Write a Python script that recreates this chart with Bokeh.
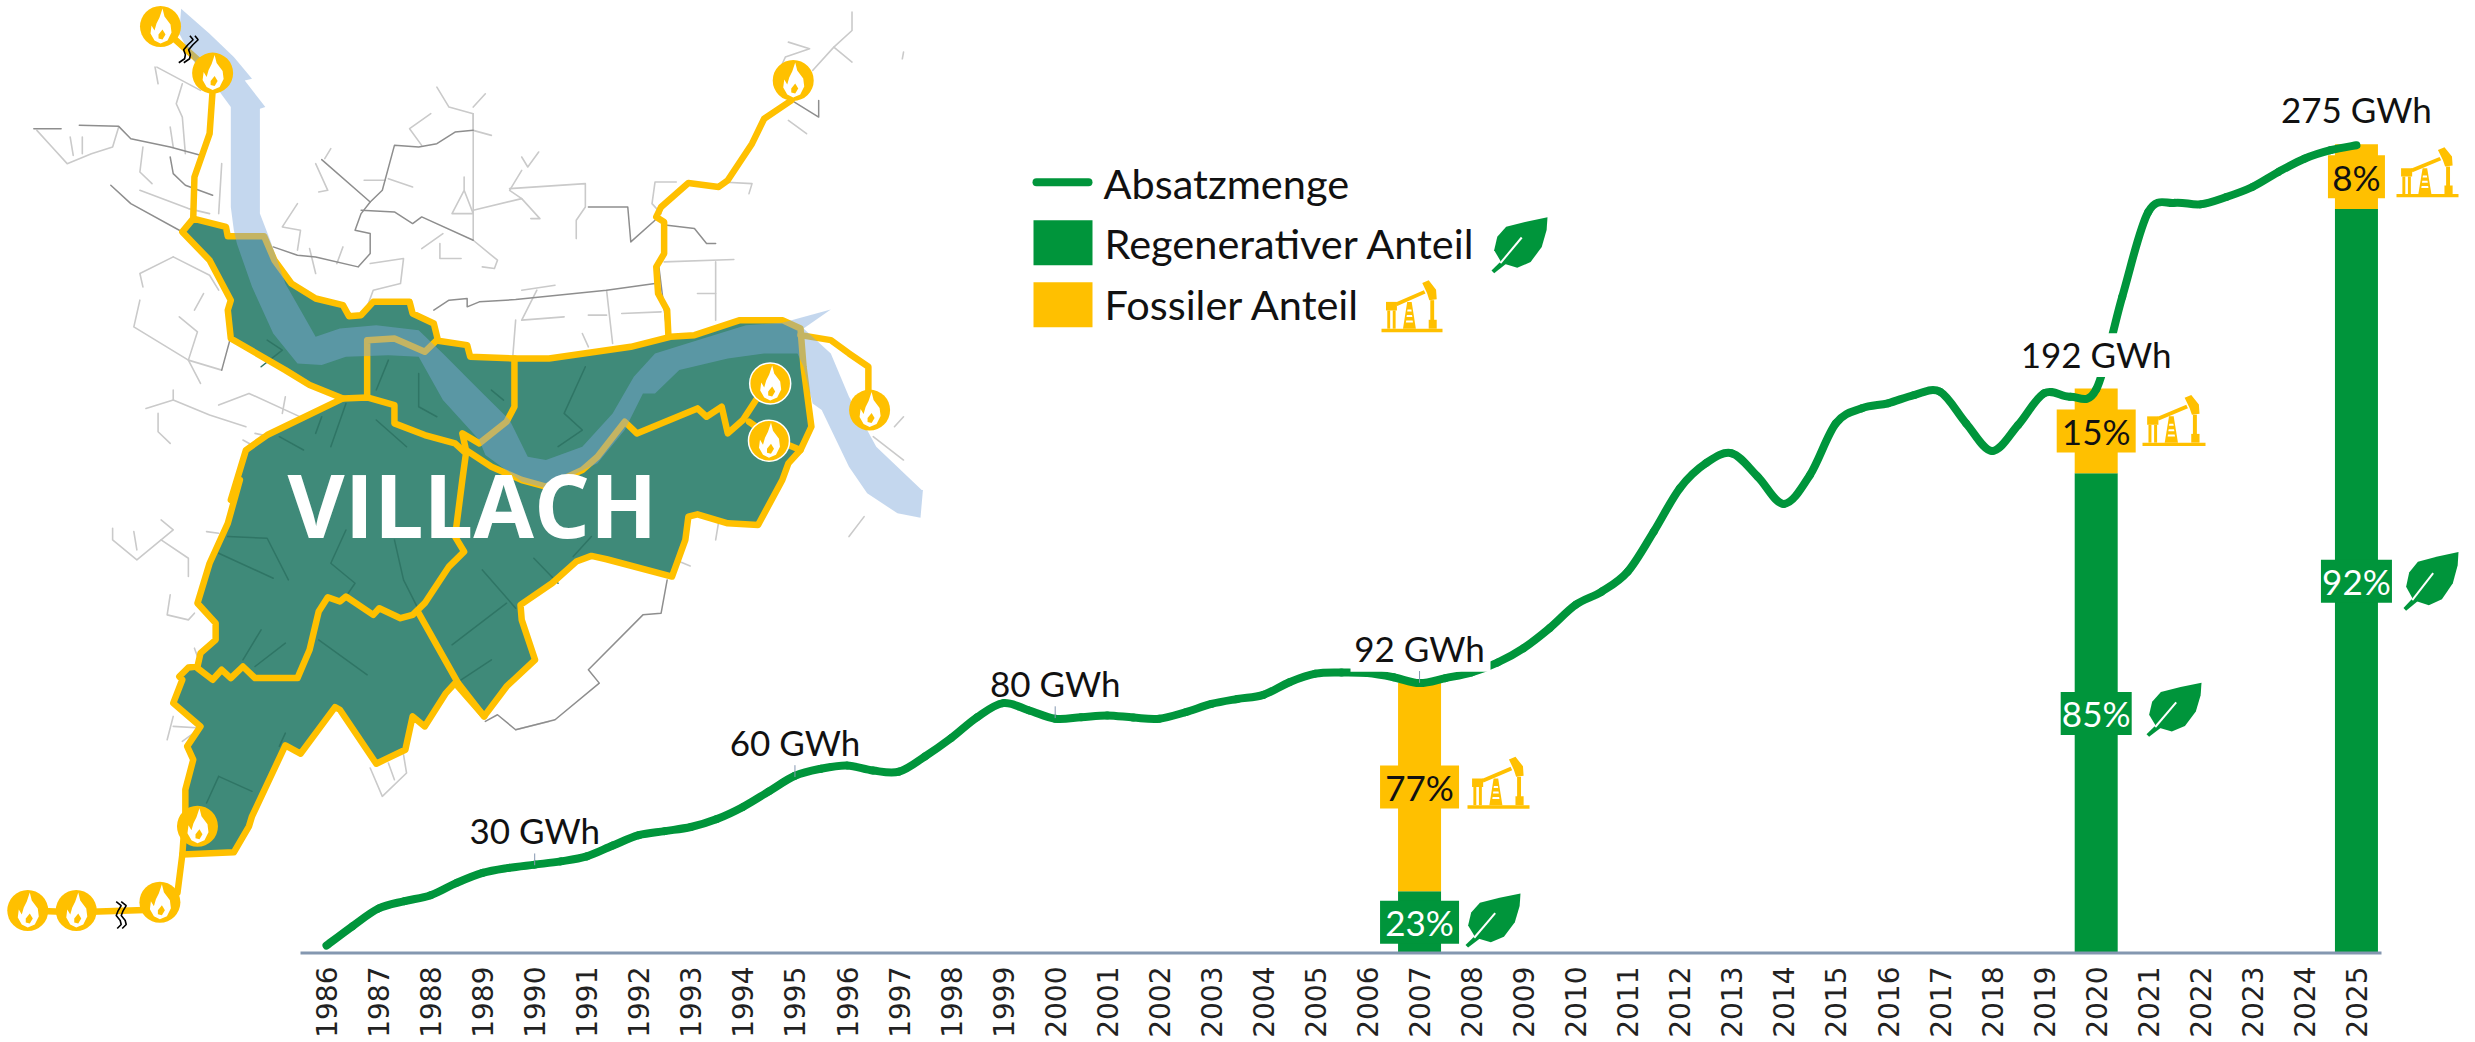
from bokeh.plotting import figure
from bokeh.embed import file_html
from bokeh.resources import INLINE
from bokeh.models import Range1d, FixedTicker
from bokeh.core.properties import value
import math

# ---------- chart data ----------
YEARS = list(range(1986, 2026))
CURVE_YEARS = [1986 + i * 0.5 for i in range(79)]
CURVE_GWH = [2.7, 9.3, 15.3, 17.8, 19.8, 24.0, 27.4, 29.1, 30.2, 31.3, 33.0, 36.7, 40.2, 41.6, 43.0, 45.7,
             49.8, 55.1, 60.4, 62.8, 63.9, 62.2, 61.8, 67.0, 73.2, 80.3, 85.1, 82.6, 79.8, 80.3, 80.9, 80.2,
             79.8, 82.0, 84.8, 86.5, 87.9, 92.2, 95.1, 95.5, 95.3, 93.9, 91.9, 93.6, 95.5, 98.9, 103.8, 110.6,
             118.5, 123.0, 129.8, 143.4, 158.1, 166.6, 170.0, 162.0, 152.8, 162.6, 180.2, 185.3, 187.0, 189.8,
             190.9, 180.2, 170.8, 179.6, 190.4, 189.2, 191.7, 223.2, 252.0, 255.1, 254.6, 257.1, 260.5, 265.6,
             270.1, 273.0, 274.7]
LABEL_YEARS = [1990, 1995, 2000, 2007, 2020, 2025]
LABEL_GWH = [30, 60, 80, 92, 192, 275]
TICK_YEARS = [1990, 1995, 2000, 2007]
SHARE_YEARS = [2007, 2020, 2025]
SHARE_TOTAL = [92, 192, 275]
RENEWABLE_PCT = [23, 85, 92]
FOSSIL_PCT = [77, 15, 8]
PCT_BOX_W = [79, 79, 57]
PCT_BOX_W_G = [79, 71, 71]
LEGEND_TEXT = ["Absatzmenge", "Regenerativer Anteil", "Fossiler Anteil"]

GREEN = "#00953B"
YELLOW = "#FFC000"
TEAL = "#3F8A79"
AXIS = "#8497B0"
FONT = value("Lato")

# ---------- map shapes (Z = picture px * (1.65, 3)) ----------
TEAL_AREA = [(318,655),(372,680),(375,708),(435,708),(452,780),(480,850),(520,895),(565,915),(575,948),(595,945),(615,905),(675,905),(680,940),(715,970),(722,1022),(770,1035),(775,1070),(848,1075),(905,1075),(1040,1040),(1105,1010),(1145,1005),(1220,960),(1290,960),(1320,985),(1325,1100),(1338,1280),(1320,1350),(1300,1390),
 (1290,1440),(1250,1575),(1200,1570),(1150,1543),(1135,1550),(1130,1620),(1108,1730),(1000,1678),(975,1668),(950,1685),(910,1750),(858,1815),(860,1860),(882,1980),(835,2060),(798,2150),(750,2050),(735,2080),(700,2180),(680,2150),(668,2250),(620,2292),(560,2130),(552,2122),(495,2262),(470,2237),(415,2450),(410,2480),(385,2558),(300,2565),(305,2440),(305,2370),(318,2280),(308,2240),(330,2180),(285,2110),(300,2040),(295,2030),(310,2003),(325,2000),(330,1960),(355,1920),(355,1870),(325,1810),(345,1690),(375,1570),(395,1440),
 (380,1500),(405,1350),(440,1305),(565,1195),(510,1155),(470,1110),(380,1015),(375,930),(380,900),(345,780),(300,695)]

YELLOW_LINES = [
 TEAL_AREA + TEAL_AREA[:1],
 [(565,1195),(605,1192),(650,1215),(650,1270),(700,1305),(750,1330),(768,1360),(762,1440),(750,1610),(765,1655),(740,1700),(700,1810),(680,1845),(660,1855),(625,1825),(615,1845),(570,1790),(560,1805),(540,1792),(525,1835),(510,1950),(490,2035),(420,2035),(400,2000),(380,2035),(365,2010),(350,2040),(325,2005)],
 [(690,1840),(755,2050),(798,2150)],
 [(605,1192),(605,1020),(650,1015),(700,1055),(720,1020)],
 [(848,1075),(848,1220),(835,1265),(790,1330),(762,1300),(768,1350),(810,1400),(860,1440),(900,1460),(960,1410),(985,1370),(1030,1265),(1050,1300),(1150,1225),(1165,1250),(1190,1220),(1200,1300),(1225,1260),(1250,1190)],
 [(1235,1265),(1270,1310)],
 [(1320,1350),(1300,1335)],
 [(350,270),(345,400),(320,530),(318,655)],
 [(1305,300),(1260,355),(1240,430),(1200,540),(1185,560),(1135,548),(1090,620),(1082,650),(1095,665),(1095,760),(1082,800),(1085,880),(1100,930),(1102,1005)],
 [(1320,1005),(1370,1020),(1400,1060),(1432,1100),(1432,1220)],
 [(300,2565),(292,2680),(263,2708)],
 [(263,2730),(125,2738),(45,2733)],
 [(264,78),(350,218)],
]

RIVER = [(298,25),(345,100),(385,170),(415,235),(403,240),(437,320),(428,325),(428,640),(445,720),(470,850),(520,1010),(560,985),(620,975),(690,990),(730,1060),(790,1170),(840,1260),(870,1370),(900,1380),(960,1340),(1010,1240),(1045,1130),(1080,1060),(1150,1020),(1230,975),(1290,968),(1370,928),(1325,985),(1370,1060),(1400,1190),(1445,1340),(1520,1470),(1522,1470),(1518,1553),(1480,1540),(1430,1480),(1400,1400),(1355,1230),(1340,1210),(1325,1100),(1315,1060),(1260,1060),(1200,1075),(1120,1110),(1080,1180),(1060,1180),(1030,1290),(985,1390),(900,1465),(860,1445),(800,1365),(790,1320),(730,1200),(690,1070),(640,1065),(570,1070),(530,1095),(490,1090),(450,1000),(415,860),(390,730),(385,690),(380,620),(380,320),(360,270),(330,220),(295,100)]

GREY_DARK = [
 [(55,385),(100,385)],[(130,375),(195,378),(215,415),(280,440),(330,465)],[(280,470),(285,520),(305,555),(350,585)],[(182,555),(215,610),(310,705)],
 [(530,478),(610,605),(595,640),(585,690),(610,700),(610,760),(590,800),(520,770),(490,765),(450,740)],[(610,605),(630,570),(650,435),(690,440),(720,430),(750,395),(780,390)],
 [(595,630),(650,635),(680,670),(695,650),(780,720)],[(715,930),(740,900),(770,895),(770,920),(790,905),(850,898),(1000,870),(1080,850)],[(1085,780),(1100,1000)],
 [(970,620),(1035,620),(1040,725),(1080,660)],[(1100,675),(1145,685),(1165,730),(1180,730)],[(1310,305),(1350,350),(1350,300)],
 [(1100,1740),(1090,1840),(1060,1845),(970,2010),(988,2050),(915,2160),(850,2190),(820,2145),(800,2165)],[(380,1010),(365,1110)],
]
GREY_LIGHT = [
 [(60,390),(85,440),(110,490),(150,460),(185,440),(195,380)],[(115,410),(120,465)],[(135,410),(135,460)],[(235,440),(230,515),(250,550)],[(280,380),(285,440)],[(300,250),(290,310),(300,350),(305,460)],
 [(255,200),(260,250)],[(258,200),(330,270)],[(230,570),(310,625),(345,640)],[(365,490),(360,640)],[(285,770),(230,820),(235,860)],[(285,770),(345,825),(360,870)],
 [(335,880),(320,930)],[(230,900),(220,980),(310,1080),(365,1110)],[(295,950),(325,995),(310,1080),(330,1150)],[(240,1225),(285,1200),(345,1245),(405,1280)],[(285,1170),(285,1200)],[(260,1240),(260,1295),(280,1330)],
 [(360,1215),(410,1180),(500,1255)],[(470,1190),(465,1240)],[(400,1320),(430,1350)],[(420,1300),(470,1320)],[(490,610),(465,680),(495,690),(490,750)],[(510,745),(520,820)],[(565,740),(555,790)],
 [(520,490),(540,570),(525,575)],[(545,445),(535,475)],[(710,340),(675,385),(695,435)],[(720,260),(740,320),(780,340),(780,390),(810,405)],[(800,280),(780,320)],[(780,340),(780,720),(820,780),(815,805),(795,800)],
 [(765,530),(765,570),(745,640),(780,640),(765,570)],[(780,630),(860,595),(890,655),(875,655)],[(860,470),(870,500),(888,455)],[(860,510),(840,570),(860,595)],[(840,565),(965,550),(965,620),(950,660),(950,715)],
 [(730,700),(695,745)],[(725,730),(725,775),(760,775)],[(610,790),(665,775),(660,850),(615,870),(605,920)],[(640,535),(680,560)],[(600,540),(635,540)],[(860,870),(915,855)],[(885,870),(860,960),(930,950)],[(850,960),(845,1075)],
 [(1000,870),(1010,1030)],[(970,945),(1000,945)],[(1025,940),(1090,935)],[(960,1000),(970,1040)],[(1095,785),(1210,778)],[(1180,785),(1180,960)],[(1150,880),(1180,880)],
 [(1090,640),(1075,610),(1080,545),(1115,545)],[(1190,545),(1240,550),(1235,580)],[(1405,35),(1405,90),(1375,140),(1340,210)],[(1300,125),(1335,145),(1295,170),(1290,190)],[(1375,140),(1405,185)],[(1300,360),(1330,400)],
 [(1425,1550),(1400,1610)],[(1440,1310),(1490,1380)],[(1490,1250),(1475,1280)],[(1490,155),(1488,175)],
 [(185,1585),(185,1620),(225,1680),(265,1620),(310,1675),(310,1730)],[(220,1595),(225,1650)],[(265,1560),(285,1590),(265,1620)],[(340,1595),(360,1600)],[(280,1785),(275,1845),(310,1860),(320,1840)],[(320,1945),(325,1970)],
 [(285,2150),(275,2220)],[(285,2180),(330,2185),(300,2225)],[(610,2305),(630,2390),(670,2320),(665,2265)],[(640,2290),(650,2340)],[(850,2190),(905,2165)],[(1185,1565),(1180,1620)],[(1120,1685),(1138,1698)],
]
TEAL_DARK = [
 [(375,1610),(440,1615),(475,1740)],[(360,1660),(450,1735)],[(430,1890),(400,1980)],[(470,1930),(420,2000)],[(525,1920),(605,2025)],[(570,1590),(545,1690),(585,1750),(570,1790)],[(650,1620),(665,1740),(690,1830)],
 [(745,1935),(835,1810)],[(795,1710),(850,1825)],[(880,1675),(920,1750)],[(975,1610),(945,1670)],[(810,1980),(760,2040)],[(360,2330),(415,2375)],[(360,2330),(340,2410)],[(470,2200),(460,2240)],
 [(920,1340),(960,1290),(930,1240),(965,1100)],[(640,1080),(620,1170)],[(690,1120),(690,1220),(720,1250)],[(810,1170),(830,1200)],[(440,1020),(465,1050),(430,1100)],[(570,1210),(545,1340)],[(620,1260),(670,1340)],[(460,1310),(500,1350)],[(530,1250),(520,1300)],
]
FLAMES_PLAIN = [(264,78),(350,218),(1308,240),(1434,1230),(325,2480),(263,2708),(125,2733),(45,2733)]
FLAMES_RINGED = [(1270,1150),(1268,1322)]
BREAKS = [(312,145,0.45),(200,2745,0.0)]

# icon outlines (relative units)
FLAME_OUT = [(2,-18),(4,-10),(10,-2),(11,6),(7,14),(0,17),(-6,14),(-10,7),(-9,-1),(-6,4),(-4,-3),(-1,-9)]
FLAME_IN = [(2,3),(5,8),(2,13),(-2,12),(-2,8)]
LEAF_BODY = [(1338,262),(1290,275),(1245,290),(1225,320),(1218,360),(1235,398),(1270,412),(1300,395),(1325,350),(1336,300)]
LEAF_STEM = [(1212,420),(1218,428),(1245,400),(1235,390)]
LEAF_SLIT = [(1280,322),(1232,398)]
PUMP_PARTS = [
 [(768,938),(958,938),(958,948),(768,948)],[(782,860),(816,860),(816,885),(782,885)],[(786,885),(795,885),(795,938),(786,938)],[(803,885),(812,885),(812,938),(803,938)],
 [(848,860),(862,860),(875,938),(835,938)],[(812,862),(900,826),(905,836),(817,872)],[(895,805),(915,797),(938,825),(940,852),(917,855),(910,835)],
 [(920,855),(932,855),(932,915),(920,915)],[(915,912),(940,912),(940,938),(915,938)],
]
PUMP_HOLES = [[(849,882),(861,882),(862,888),(848,888)],[(847,898),(863,898),(864,904),(846,904)],[(845,914),(865,914),(866,920),(844,920)]]
# icon boxes: left, top, right, bottom
LEAF_BOXES = [(1491,217,1547,273),(1465,894,1520,948),(2146,683,2201,737),(2403,552,2458,611)]
PUMP_BOXES = [(1381,280,1442,332),(1467,757,1529,809),(2142,395,2205,446),(2396,147,2458,197)]

# ---------- layout (page px of the reference) ----------
PX_YEAR, X_1986 = 52.05, 326.0
PX_GWH, Y_ZERO = 2.9455, 954.0
W, H = 2470, 1040
F_L, F_R, F_T, F_B = 0, W, 0, 957

p = figure(width=W, height=H, output_backend="svg", toolbar_location=None,
           x_range=Range1d(1986 + (F_L - X_1986) / PX_YEAR, 1986 + (F_R - X_1986) / PX_YEAR),
           y_range=Range1d((Y_ZERO - F_B) / PX_GWH, (Y_ZERO - F_T) / PX_GWH),
           min_border_left=0, min_border_right=0, min_border_top=0, min_border_bottom=H - F_B)
p.extra_x_ranges["px"] = Range1d(F_L, F_R)
p.extra_y_ranges["px"] = Range1d(F_B, F_T)
p.grid.visible = False
p.yaxis.visible = False
p.outline_line_color = None
ax = p.xaxis[0]
ax.ticker = FixedTicker(ticks=YEARS)
ax.major_label_overrides = {y: str(y) for y in YEARS}
ax.major_label_orientation = math.pi / 2
ax.major_label_standoff = 10
ax.major_label_text_font = "DejaVu Sans"
ax.major_label_text_font_size = "28px"
ax.major_label_text_color = "#222222"
ax.axis_line_color = None
ax.major_tick_line_color = None
ax.minor_tick_line_color = None
ax.major_tick_out = 0
ax.major_tick_in = 0

PX = dict(x_range_name="px", y_range_name="px")
def zx(pts): return [a / 1.65 for a, _ in pts]
def zy(pts): return [b / 3.0 for _, b in pts]
def zlines(lines, **kw):
    p.multi_line([zx(l) for l in lines], [zy(l) for l in lines], line_join="round", line_cap="round", **PX, **kw)

# --- map ---
zlines(GREY_LIGHT, line_color="#CACACA", line_width=1.6)
zlines(GREY_DARK, line_color="#8E8E8E", line_width=1.5)
p.patch(zx(TEAL_AREA), zy(TEAL_AREA), fill_color=TEAL, line_color=None, **PX)
zlines(TEAL_DARK, line_color="#2F7565", line_width=1.5)
zlines(YELLOW_LINES, line_color=YELLOW, line_width=6.5)
p.patch(zx(RIVER), zy(RIVER), fill_color="#7DA7D9", fill_alpha=0.45, line_color=None, **PX)

def flame(cx, cy, ring):
    p.scatter([cx], [cy], marker="circle", size=41, fill_color=YELLOW,
              line_color="white" if ring else None, line_width=1.5, **PX)
    p.patch([cx + a for a, _ in FLAME_OUT], [cy + b for _, b in FLAME_OUT], fill_color="white", line_color=None, **PX)
    p.patch([cx + a for a, _ in FLAME_IN], [cy + b for _, b in FLAME_IN], fill_color=YELLOW, line_color=None, **PX)
for c in FLAMES_PLAIN:
    flame(c[0] / 1.65, c[1] / 3.0, False)
for c in FLAMES_RINGED:
    flame(c[0] / 1.65, c[1] / 3.0, True)
for bx, by, sk in BREAKS:
    cx, cy = bx / 1.65, by / 3.0
    wave = [(-3,-13),(2,-9),(-1,-4),(-3,1),(1,6),(2,10),(-2,14)]
    for dx in (-2.5, 2.5):
        p.line([cx + dx + a - b * sk for a, b in wave], [cy + b for _, b in wave], line_color="black", line_width=1.6, **PX)

p.text([(291 + 653) / 2], [504], text=["VILLACH"], text_font=value("Open Sans"), text_font_style="bold",
       text_font_size="88px", text_color="white", text_align="center", text_baseline="middle", **PX)

# --- bars ---
FOSSIL_BASE = [t * r / 100 for t, r in zip(SHARE_TOTAL, RENEWABLE_PCT)]
BAR_W = 43 / PX_YEAR
p.vbar(x=SHARE_YEARS, top=FOSSIL_BASE, bottom=0, width=BAR_W, fill_color=GREEN, line_color=None)
p.vbar(x=SHARE_YEARS, top=SHARE_TOTAL, bottom=FOSSIL_BASE, width=BAR_W, fill_color=YELLOW, line_color=None)
G_MID = [b / 2 for b in FOSSIL_BASE]
Y_MID = [(b + t) / 2 for b, t in zip(FOSSIL_BASE, SHARE_TOTAL)]
p.rect(SHARE_YEARS, G_MID, width=PCT_BOX_W_G, height=43, width_units="screen", height_units="screen", fill_color=GREEN, line_color=None)
p.rect(SHARE_YEARS, Y_MID, width=PCT_BOX_W, height=43, width_units="screen", height_units="screen", fill_color=YELLOW, line_color=None)

# --- curve: one smooth Bezier piece between each pair of values ---
n = len(CURVE_YEARS)
def at(seq, i): return seq[max(0, min(n - 1, i))]
cx0 = [CURVE_YEARS[i] + (at(CURVE_YEARS, i + 1) - at(CURVE_YEARS, i - 1)) / 6 for i in range(n - 1)]
cy0 = [CURVE_GWH[i] + (at(CURVE_GWH, i + 1) - at(CURVE_GWH, i - 1)) / 6 for i in range(n - 1)]
cx1 = [CURVE_YEARS[i + 1] - (at(CURVE_YEARS, i + 2) - at(CURVE_YEARS, i)) / 6 for i in range(n - 1)]
cy1 = [CURVE_GWH[i + 1] - (at(CURVE_GWH, i + 2) - at(CURVE_GWH, i)) / 6 for i in range(n - 1)]
p.bezier(x0=CURVE_YEARS[:-1], y0=CURVE_GWH[:-1], x1=CURVE_YEARS[1:], y1=CURVE_GWH[1:],
         cx0=cx0, cy0=cy0, cx1=cx1, cy1=cy1, line_color=GREEN, line_width=8, line_cap="round")

# white boxes of the two labels that interrupt the curve
p.quad(left=[1350, 2015], right=[1490, 2180], top=[630, 333], bottom=[672, 377], fill_color="white", line_color=None, **PX)

# small leader ticks
LEAD_Y = [LABEL_GWH[LABEL_YEARS.index(y)] for y in TICK_YEARS]
p.segment(TICK_YEARS, LEAD_Y, TICK_YEARS, [g + 4 for g in LEAD_Y], line_color=AXIS, line_width=1)

p.text(LABEL_YEARS, LABEL_GWH, text=[f"{g} GWh" for g in LABEL_GWH], text_font=FONT, text_font_size="35px",
       text_color="#111111", text_align="center", text_baseline="middle", y_offset=-35)
p.text(SHARE_YEARS, G_MID, text=[f"{v}%" for v in RENEWABLE_PCT], text_font=FONT, text_font_size="35px",
       text_color="white", text_align="center", text_baseline="middle")
p.text(SHARE_YEARS, Y_MID, text=[f"{v}%" for v in FOSSIL_PCT], text_font=FONT, text_font_size="35px",
       text_color="#111111", text_align="center", text_baseline="middle")

# --- axis line ---
p.line([300, 2381], [953.5, 953.5], line_color=AXIS, line_width=3, **PX)

# --- legend ---
p.line([1036, 1088], [182, 182], line_color=GREEN, line_width=8, line_cap="round", **PX)
p.quad(left=[1033, 1033], right=[1092, 1092], top=[220, 282], bottom=[265, 327], fill_color=[GREEN, YELLOW], line_color=None, **PX)
p.text([1103, 1104, 1104], [183, 243, 304], text=LEGEND_TEXT, text_font=FONT, text_font_size="41.5px",
       text_color="#111111", text_align="left", text_baseline="middle", **PX)

# --- icons ---
def box_map(box, x0, y0, x1, y1):
    l, t, r, b = box
    return (lambda x: l + (x - x0) / (x1 - x0) * (r - l)), (lambda y: t + (y - y0) / (y1 - y0) * (b - t))
for box in LEAF_BOXES:
    fx, fy = box_map(box, 1212, 262, 1338, 428)
    for part in (LEAF_BODY, LEAF_STEM):
        p.patch([fx(a) for a, _ in part], [fy(b) for _, b in part], fill_color=GREEN, line_color=None, **PX)
    p.line([fx(a) for a, _ in LEAF_SLIT], [fy(b) for _, b in LEAF_SLIT], line_color="white", line_width=2, **PX)
for box in PUMP_BOXES:
    fx, fy = box_map(box, 768, 797, 958, 948)
    for part in PUMP_PARTS:
        p.patch([fx(a) for a, _ in part], [fy(b) for _, b in part], fill_color=YELLOW, line_color=None, **PX)
    for part in PUMP_HOLES:
        p.patch([fx(a) for a, _ in part], [fy(b) for _, b in part], fill_color="white", line_color=None, **PX)

open("out.html", "w").write(file_html(p, INLINE))
